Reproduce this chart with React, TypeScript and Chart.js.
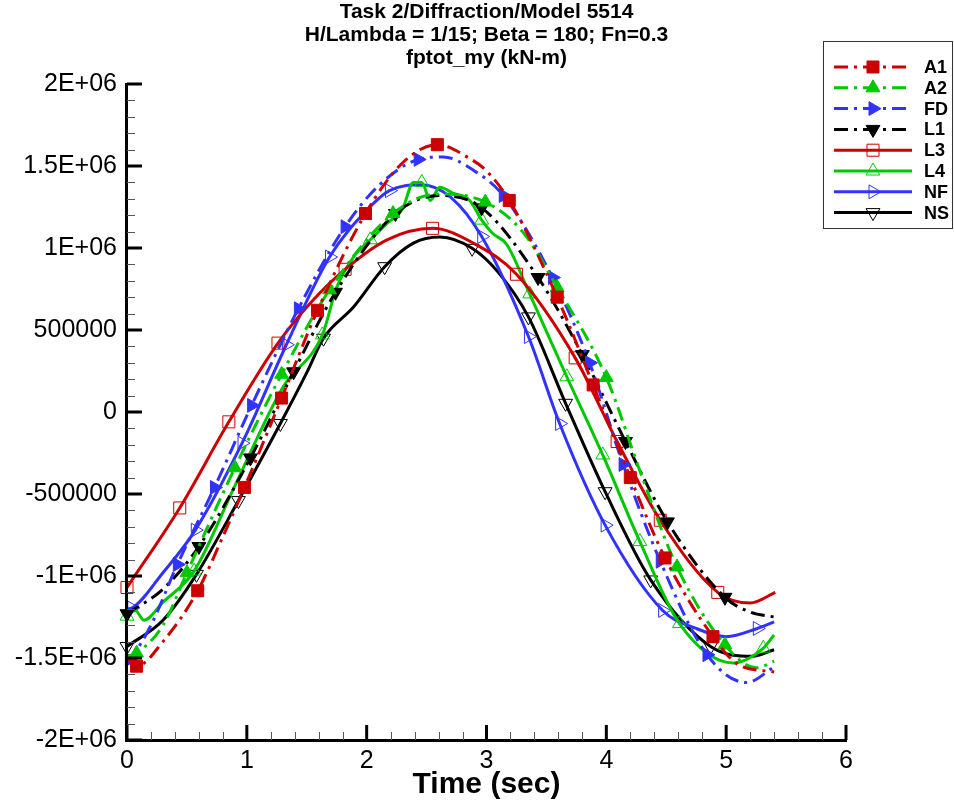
import React, { useEffect, useRef } from 'react';
import { Chart, registerables } from 'chart.js';

Chart.register(...registerables);

const FONT = '"Liberation Sans", Arial, Helvetica, sans-serif';

// ---- text ----
const titleLines = ['Task 2/Diffraction/Model 5514', 'H/Lambda = 1/15; Beta = 180; Fn=0.3', 'fptot_my (kN-m)'];
const xAxisTitle = 'Time (sec)';
const yTickValues = [-2000000, -1500000, -1000000, -500000, 0, 500000, 1000000, 1500000, 2000000];
const yTickLabels = ['-2E+06', '-1.5E+06', '-1E+06', '-500000', '0', '500000', '1E+06', '1.5E+06', '2E+06'];
const xTickValues = [0, 1, 2, 3, 4, 5, 6];
const xTickLabels = ['0', '1', '2', '3', '4', '5', '6'];

// ---- data (time in sec, moment in kN-m) ----
const a1Time = [0, 0.08, 0.3, 0.59, 0.8, 0.98, 1.29, 1.59, 1.99, 2.3, 2.59, 2.85, 3.0, 3.19, 3.59, 3.89, 4.2, 4.49, 4.89, 5.1, 5.4];
const a1Value = [-1500000, -1550000, -1400000, -1090000, -760000, -460000, 85000, 620000, 1210000, 1520000, 1630000, 1550000, 1470000, 1290000, 700000, 165000, -400000, -890000, -1370000, -1540000, -1585000];
const a1Marks = [0.08, 0.59, 0.98, 1.29, 1.59, 1.99, 2.59, 3.19, 3.59, 3.89, 4.2, 4.49, 4.89];

const a2Time = [0, 0.08, 0.3, 0.5, 0.9, 1.29, 1.69, 2.22, 2.6, 2.99, 3.3, 3.59, 4.0, 4.3, 4.59, 4.99, 5.25, 5.4];
const a2Value = [-1490000, -1470000, -1300000, -980000, -340000, 230000, 745000, 1210000, 1330000, 1280000, 1100000, 760000, 210000, -400000, -945000, -1420000, -1560000, -1520000];
const a2Marks = [0.08, 0.5, 0.9, 1.29, 1.69, 2.22, 2.99, 3.59, 4.0, 4.59, 4.99];

const fdTime = [0, 0.02, 0.2, 0.42, 0.73, 1.04, 1.43, 1.82, 2.1, 2.43, 2.64, 2.9, 3.14, 3.55, 3.86, 4.14, 4.45, 4.84, 5.17, 5.4];
const fdValue = [-1520000, -1510000, -1300000, -930000, -460000, 40000, 630000, 1130000, 1380000, 1540000, 1555000, 1470000, 1320000, 820000, 300000, -320000, -910000, -1480000, -1650000, -1555000];
const fdMarks = [0.02, 0.42, 0.73, 1.04, 1.43, 1.82, 2.43, 3.14, 3.55, 3.86, 4.14, 4.45, 4.84];

const l1Time = [0, 0.3, 0.6, 1.03, 1.39, 1.74, 2.24, 2.61, 2.96, 3.43, 3.8, 4.16, 4.51, 4.99, 5.2, 5.4];
const l1Value = [-1230000, -1080000, -820000, -280000, 245000, 730000, 1210000, 1320000, 1245000, 820000, 350000, -180000, -670000, -1130000, -1220000, -1250000];
const l1Marks = [0, 0.6, 1.03, 1.39, 1.74, 2.24, 2.96, 3.43, 3.8, 4.16, 4.51, 4.99];

const l3Time = [0, 0.44, 0.85, 1.26, 1.55, 1.82, 2.17, 2.55, 2.89, 3.25, 3.74, 4.09, 4.45, 4.93, 5.2, 5.41];
const l3Value = [-1070000, -585000, -60000, 420000, 680000, 870000, 1050000, 1120000, 1030000, 840000, 330000, -180000, -660000, -1100000, -1165000, -1100000];
const l3Marks = [0, 0.44, 0.85, 1.26, 1.82, 2.55, 3.25, 3.74, 4.09, 4.45, 4.93];

const l4Time = [0, 0.07, 0.14, 0.3, 0.56, 0.9, 1.3, 1.63, 1.75, 1.89, 2.03, 2.17, 2.3, 2.39, 2.46, 2.53, 2.61, 2.72, 2.86, 2.96, 3.05, 3.17, 3.36, 3.67, 3.97, 4.28, 4.61, 5.06, 5.31, 5.4];
const l4Value = [-1245000, -1210000, -1270000, -1160000, -970000, -450000, 150000, 470000, 760000, 945000, 1050000, 1150000, 1240000, 1400000, 1400000, 1290000, 1370000, 1335000, 1290000, 1170000, 1090000, 1020000, 720000, 215000, -262000, -790000, -1290000, -1530000, -1440000, -1360000];
const l4Marks = [0, 0.56, 1.63, 2.03, 2.46, 2.96, 3.36, 3.67, 3.97, 4.28, 4.61, 5.31];

const nfTime = [0, 0.04, 0.3, 0.57, 0.96, 1.33, 1.69, 2.0, 2.19, 2.45, 2.7, 2.96, 3.35, 3.61, 3.99, 4.47, 4.75, 5.0, 5.26, 5.4];
const nfValue = [-1200000, -1195000, -980000, -720000, -190000, 410000, 945000, 1230000, 1350000, 1385000, 1310000, 1070000, 460000, -70000, -690000, -1210000, -1320000, -1370000, -1320000, -1280000];
const nfMarks = [0.04, 0.57, 0.96, 1.33, 1.69, 2.19, 2.96, 3.35, 3.61, 3.99, 4.47, 5.26];

const nsTime = [0, 0.3, 0.58, 0.93, 1.28, 1.5, 1.64, 1.89, 2.15, 2.39, 2.61, 2.88, 3.1, 3.35, 3.66, 3.99, 4.37, 4.87, 5.22, 5.4];
const nsValue = [-1430000, -1270000, -990000, -540000, -70000, 240000, 450000, 640000, 886000, 1030000, 1067000, 998000, 850000, 580000, 53000, -486000, -1024000, -1430000, -1490000, -1450000];
const nsMarks = [0, 0.58, 0.93, 1.28, 1.64, 2.15, 2.88, 3.35, 3.66, 3.99, 4.37, 4.87];

// ---- styles ----
const RED = '#CC0000';
const GREEN = '#00C800';
const BLUE = '#3232FF';
const BLACK = '#000000';
const DASHDOT = [14, 6, 3, 6];

type Shape = 'rect' | 'triangle';
interface Series {
  name: string; t: number[]; v: number[]; marks: number[];
  color: string; dash: number[]; shape: Shape; rot: number; filled: boolean; r: number;
}

const series: Series[] = [
  { name: 'A1', t: a1Time, v: a1Value, marks: a1Marks, color: RED, dash: DASHDOT, shape: 'rect', rot: 0, filled: true, r: 8.5 },
  { name: 'A2', t: a2Time, v: a2Value, marks: a2Marks, color: GREEN, dash: DASHDOT, shape: 'triangle', rot: 0, filled: true, r: 8 },
  { name: 'FD', t: fdTime, v: fdValue, marks: fdMarks, color: BLUE, dash: DASHDOT, shape: 'triangle', rot: 90, filled: true, r: 8 },
  { name: 'L1', t: l1Time, v: l1Value, marks: l1Marks, color: BLACK, dash: DASHDOT, shape: 'triangle', rot: 180, filled: true, r: 8 },
  { name: 'L3', t: l3Time, v: l3Value, marks: l3Marks, color: RED, dash: [], shape: 'rect', rot: 0, filled: false, r: 8.5 },
  { name: 'L4', t: l4Time, v: l4Value, marks: l4Marks, color: GREEN, dash: [], shape: 'triangle', rot: 0, filled: false, r: 8 },
  { name: 'NF', t: nfTime, v: nfValue, marks: nfMarks, color: BLUE, dash: [], shape: 'triangle', rot: 90, filled: false, r: 8 },
  { name: 'NS', t: nsTime, v: nsValue, marks: nsMarks, color: BLACK, dash: [], shape: 'triangle', rot: 180, filled: false, r: 8 },
];

function markerPath(ctx: CanvasRenderingContext2D, shape: Shape, rot: number, x: number, y: number, r: number) {
  ctx.beginPath();
  if (shape === 'rect') {
    const s = r * Math.SQRT1_2;
    ctx.rect(x - s, y - s, 2 * s, 2 * s);
  } else {
    let rad = (rot * Math.PI) / 180;
    for (let k = 0; k < 3; k++) {
      const px = x + Math.sin(rad) * r;
      const py = y - Math.cos(rad) * r;
      if (k === 0) ctx.moveTo(px, py); else ctx.lineTo(px, py);
      rad += (2 * Math.PI) / 3;
    }
  }
  ctx.closePath();
}

const decorPlugin = {
  id: 'decor',
  afterDraw(chart: any) {
    const ctx: CanvasRenderingContext2D = chart.ctx;
    const { left, right, top, bottom } = chart.chartArea;
    const xs = chart.scales.x;
    const ys = chart.scales.y;
    ctx.save();

    // axes lines
    ctx.strokeStyle = '#000';
    ctx.lineCap = 'butt';
    ctx.lineWidth = 3;
    ctx.beginPath();
    ctx.moveTo(left - 0.5, top - 1);
    ctx.lineTo(left - 0.5, bottom + 0.5);
    ctx.lineTo(right + 1, bottom + 0.5);
    ctx.stroke();

    // minor ticks
    ctx.lineWidth = 1;
    ctx.strokeStyle = '#555';
    ctx.beginPath();
    for (let i = 0; i <= 40; i++) {
      if (i % 5 === 0) continue;
      const val = -2000000 + i * 100000;
      const py = Math.round(ys.getPixelForValue(val)) + 0.5;
      ctx.moveTo(left, py);
      ctx.lineTo(left + 8, py);
    }
    for (let i = 0; i <= 30; i++) {
      if (i % 5 === 0) continue;
      const px = Math.round(xs.getPixelForValue(i * 0.2)) + 0.5;
      ctx.moveTo(px, bottom);
      ctx.lineTo(px, bottom - 8);
    }
    ctx.stroke();

    // major ticks
    ctx.lineWidth = 3;
    ctx.strokeStyle = '#000';
    ctx.beginPath();
    yTickValues.forEach((val) => {
      const py = ys.getPixelForValue(val);
      ctx.moveTo(left, py);
      ctx.lineTo(left + 15, py);
    });
    xTickValues.forEach((val) => {
      const px = xs.getPixelForValue(val);
      ctx.moveTo(px, bottom);
      ctx.lineTo(px, bottom - 15);
    });
    ctx.stroke();

    // titles
    ctx.fillStyle = '#000';
    ctx.textAlign = 'center';
    ctx.textBaseline = 'middle';
    const cx = (left + right) / 2;
    ctx.font = `bold 21px ${FONT}`;
    titleLines.forEach((line, i) => ctx.fillText(line, cx, 12 + i * 23));
    ctx.font = `bold 30px ${FONT}`;
    ctx.fillText(xAxisTitle, cx, 785);

    // legend
    const bx = 823.5, by = 41.5, bw = 129, bh = 187;
    ctx.lineWidth = 1;
    ctx.strokeStyle = '#333';
    ctx.strokeRect(bx, by, bw, bh);
    series.forEach((s, i) => {
      const ly = 67 + i * 20.8;
      ctx.save();
      ctx.strokeStyle = s.color;
      ctx.lineWidth = 3;
      ctx.setLineDash(s.dash);
      ctx.beginPath();
      ctx.moveTo(834, ly);
      ctx.lineTo(912, ly);
      ctx.stroke();
      ctx.restore();
      markerPath(ctx, s.shape, s.rot, 873, ly, s.r);
      if (s.filled) {
        ctx.fillStyle = s.color;
        ctx.fill();
      } else {
        ctx.fillStyle = '#fff';
      }
      ctx.lineWidth = 1;
      ctx.strokeStyle = s.color;
      ctx.stroke();
      ctx.fillStyle = '#000';
      ctx.font = `bold 18px ${FONT}`;
      ctx.textAlign = 'left';
      ctx.textBaseline = 'middle';
      ctx.fillText(s.name, 924, ly + 1);
    });

    ctx.restore();
  },
};

export default function App() {
  const ref = useRef<HTMLCanvasElement | null>(null);

  useEffect(() => {
    if (!ref.current) return;
    const datasets = series.map((s) => ({
      label: s.name,
      data: s.t.map((t, i) => ({ x: t, y: s.v[i] })),
      borderColor: s.color,
      borderWidth: 3,
      borderDash: s.dash,
      fill: false,
      cubicInterpolationMode: 'monotone' as const,
      pointRadius: s.t.map((t) => (s.marks.includes(t) ? s.r : 0)),
      pointHoverRadius: 0,
      pointStyle: s.shape,
      pointRotation: s.rot,
      pointBackgroundColor: s.filled ? s.color : 'rgba(0,0,0,0)',
      pointBorderColor: s.color,
      pointBorderWidth: 1,
      clip: false as any,
    }));

    const chart = new Chart(ref.current, {
      type: 'line',
      data: { datasets },
      plugins: [decorPlugin],
      options: {
        animation: false,
        responsive: false,
        events: [],
        layout: { padding: { top: 84, right: 108, left: 0, bottom: 0 } },
        plugins: { legend: { display: false }, title: { display: false }, tooltip: { enabled: false } },
        scales: {
          x: {
            type: 'linear',
            min: 0,
            max: 6,
            afterFit: (s: any) => { s.height = 67; },
            grid: { display: false, drawTicks: false },
            border: { display: false },
            ticks: {
              stepSize: 1,
              padding: 6,
              maxRotation: 0,
              autoSkip: false,
              color: '#000',
              font: { family: FONT, size: 25 },
              callback: (v: any) => {
                const idx = xTickValues.indexOf(Number(v));
                return idx >= 0 ? xTickLabels[idx] : '';
              },
            },
          },
          y: {
            type: 'linear',
            min: -2000000,
            max: 2000000,
            afterFit: (s: any) => { s.width = 127; },
            grid: { display: false, drawTicks: false },
            border: { display: false },
            ticks: {
              stepSize: 500000,
              padding: 10,
              color: '#000',
              font: { family: FONT, size: 25 },
              callback: (v: any) => {
                const idx = yTickValues.indexOf(Number(v));
                return idx >= 0 ? yTickLabels[idx] : '';
              },
            },
          },
        },
      },
    });
    return () => chart.destroy();
  }, []);

  return (
    <div style={{ position: 'absolute', left: 0, top: 0, width: 954, height: 807, background: '#fff' }}>
      <canvas ref={ref} width={954} height={807} style={{ display: 'block' }} />
    </div>
  );
}
